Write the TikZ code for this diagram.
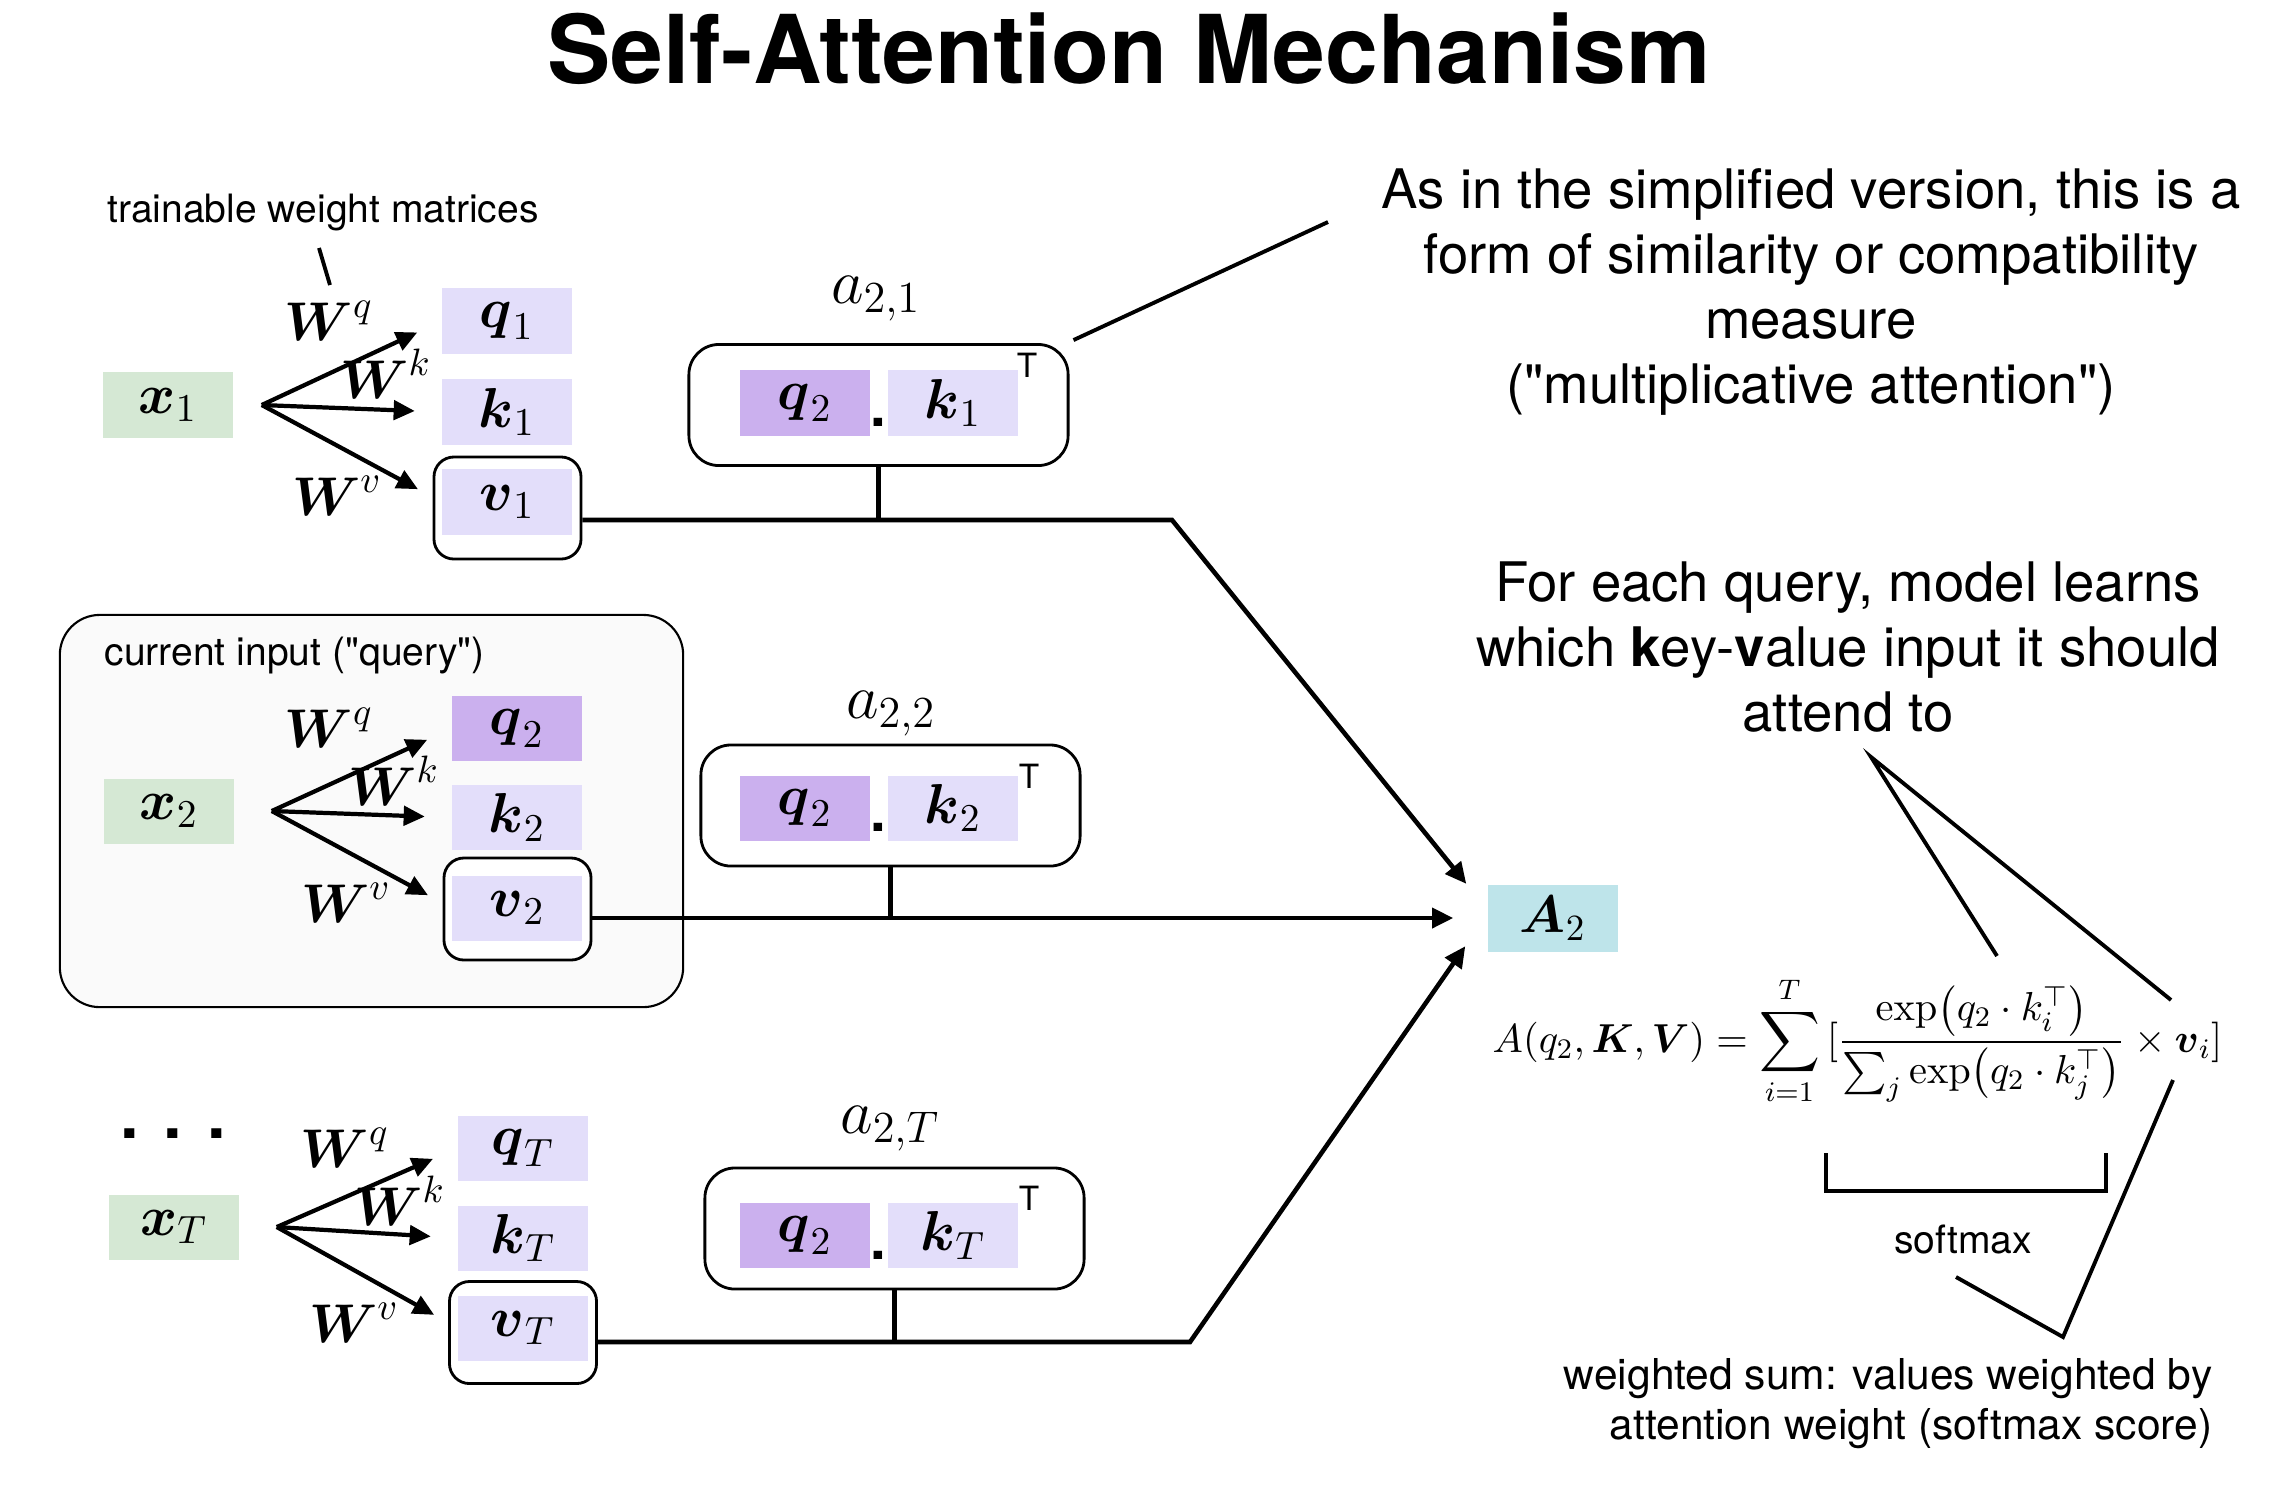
\RequirePackage{fix-cm}
\documentclass[tikz,border=0pt]{standalone}
\usepackage{amsmath}
\usepackage[no-math]{fontspec}
\setmainfont{TeX Gyre Heros}
\usepackage{tikz}
\usetikzlibrary{arrows.meta}
\usetikzlibrary{positioning}

\definecolor{InputGreen}{HTML}{D5E8D4}
\definecolor{KeyLilac}{HTML}{E3DEFA}
\definecolor{QueryLilac}{HTML}{CBB0EE}
\definecolor{OutCyan}{HTML}{BEE4EA}
\definecolor{PanelGray}{HTML}{FAFAFA}

\begin{document}
\begin{tikzpicture}[x=0.01cm, y=-0.01cm,
        vec/.style={minimum width=1.29cm, minimum height=0.65cm, inner sep=0pt, font=\fontsize{16}{18}\selectfont},
        inbox/.style={vec, fill=InputGreen},
        keybox/.style={vec, fill=KeyLilac},
        qrybox/.style={vec, fill=QueryLilac},
        vframe/.style={draw, rounded corners=0.2cm, line width=0.8pt, minimum width=1.47cm, minimum height=1.02cm},
        scorebox/.style={draw, rounded corners=0.3cm, line width=0.8pt, minimum width=3.79cm, minimum height=1.21cm},
        wlab/.style={anchor=base, inner sep=0pt, font=\fontsize{15.5}{18}\selectfont},
        alab/.style={anchor=base, inner sep=0pt, font=\fontsize{18}{20}\selectfont},
        tmark/.style={inner sep=0pt, font=\fontsize{9.5}{10}\selectfont},
        dotmark/.style={inner sep=0pt, font=\bfseries\fontsize{16}{16}\selectfont},
        note/.style={align=center, inner sep=0pt, font=\fontsize{15.5}{18.5}\selectfont},
        remark/.style={inner sep=0pt, font=\fontsize{11.1}{13}\selectfont},
        proj/.style={-{Triangle[length=6pt,width=5.5pt]}, line width=1.2pt, shorten >=0.27cm},
        flow/.style={-{Triangle[length=6pt,width=5.6pt]}, line width=1.3pt},
        wire/.style={line width=1.3pt},
        pointer/.style={line width=1.1pt},
    ]
    \useasboundingbox (0,0) rectangle (2276,1496);
    \node[anchor=base, inner sep=0pt, font=\bfseries\fontsize{27}{30}\selectfont] (title) at (1129,83) {Self-Attention Mechanism};

    % first input
    \node[remark, anchor=base] (train) at (323,222) {trainable weight matrices};
    \node[inbox] (x1) at (168,405) {$\boldsymbol{x}_1$};
    \node[keybox] (q1) at (507,321) {$\boldsymbol{q}_1$};
    \node[keybox] (k1) at (507,412) {$\boldsymbol{k}_1$};
    \node[vframe] (v1f) at (507.5,508) {};
    \node[keybox] (v1) at (507,502) {$\boldsymbol{v}_1$};
    \node[wlab] (wq1) at (329,340) {$\boldsymbol{W}^{q}$};
    \node[wlab] (wk1) at (386,398) {$\boldsymbol{W}^{k}$};
    \node[wlab] (wv1) at (337,515) {$\boldsymbol{W}^{v}$};
    \draw[proj] ([xshift=0.285cm]x1.east) -- (q1.west);
    \draw[proj] ([xshift=0.285cm]x1.east) -- (k1.west);
    \draw[proj] ([xshift=0.285cm]x1.east) -- (v1.west);
    \coordinate (trainA) at (319,248);
    \coordinate (trainB) at (330,285);
    \draw[pointer] (trainA) -- (trainB);

    % current input (query)
    \node[draw, fill=PanelGray, rounded corners=0.4cm, line width=0.6pt, minimum width=6.23cm, minimum height=3.92cm] (panel) at (371.5,811) {};
    \node[remark, anchor=base west] (cur) at (104,665) {current input (\textquotedbl{}query\textquotedbl)};
    \node[inbox] (x2) at (169,811) {$\boldsymbol{x}_2$};
    \node[qrybox] (q2) at (517,728.5) {$\boldsymbol{q}_2$};
    \node[keybox] (k2) at (517,817.5) {$\boldsymbol{k}_2$};
    \node[vframe, fill=white] (v2f) at (517.5,909) {};
    \node[keybox] (v2) at (517,908) {$\boldsymbol{v}_2$};
    \node[wlab] (wq2) at (329,747) {$\boldsymbol{W}^{q}$};
    \node[wlab] (wk2) at (394,805) {$\boldsymbol{W}^{k}$};
    \node[wlab] (wv2) at (346,922) {$\boldsymbol{W}^{v}$};
    \draw[proj] ([xshift=0.375cm]x2.east) -- (q2.west);
    \draw[proj] ([xshift=0.375cm]x2.east) -- (k2.west);
    \draw[proj] ([xshift=0.375cm]x2.east) -- (v2.west);

    % last input
    \node[inner sep=0pt, font=\bfseries\fontsize{19}{20}\selectfont] (more) at (173,1134) {. . .};
    \node[inbox] (xT) at (174,1227) {$\boldsymbol{x}_T$};
    \node[keybox] (qT) at (523,1148) {$\boldsymbol{q}_T$};
    \node[keybox] (kT) at (523,1238) {$\boldsymbol{k}_T$};
    \node[vframe] (vTf) at (523,1332.5) {};
    \node[keybox] (vT) at (523,1328) {$\boldsymbol{v}_T$};
    \node[wlab] (wqT) at (345,1167) {$\boldsymbol{W}^{q}$};
    \node[wlab] (wkT) at (400,1225) {$\boldsymbol{W}^{k}$};
    \node[wlab] (wvT) at (354,1342) {$\boldsymbol{W}^{v}$};
    \draw[proj] ([xshift=0.375cm]xT.east) -- (qT.west);
    \draw[proj] ([xshift=0.375cm]xT.east) -- (kT.west);
    \draw[proj] ([xshift=0.375cm]xT.east) -- (vT.west);

    % attention scores
    \node[scorebox] (a21) at (878.5,405) {};
    \node[qrybox] (a21q) at (805,403) {$\boldsymbol{q}_2$};
    \node[keybox] (a21k) at (953,403) {$\boldsymbol{k}_1$};
    \node[dotmark] (a21d) at (878,422) {.};
    \node[tmark] (a21t) at (1027,365) {T};
    \node[alab] (a21l) at (876,303) {$a_{2,1}$};

    \node[scorebox] (a22) at (890.5,805.5) {};
    \node[qrybox] (a22q) at (805,808) {$\boldsymbol{q}_2$};
    \node[keybox] (a22k) at (953,808) {$\boldsymbol{k}_2$};
    \node[dotmark] (a22d) at (878,827) {.};
    \node[tmark] (a22t) at (1029,776) {T};
    \node[alab] (a22l) at (891,718) {$a_{2,2}$};

    \node[scorebox] (a2T) at (894.5,1228.5) {};
    \node[qrybox] (a2Tq) at (805,1235.5) {$\boldsymbol{q}_2$};
    \node[keybox] (a2Tk) at (953,1235.5) {$\boldsymbol{k}_T$};
    \node[dotmark] (a2Td) at (878,1255) {.};
    \node[tmark] (a2Tt) at (1029,1198) {T};
    \node[alab] (a2Tl) at (890,1133) {$a_{2,T}$};

    % output
    \node[vec, fill=OutCyan, minimum width=1.3cm, minimum height=0.67cm, font=\fontsize{15}{18}\selectfont] (A2) at (1553,918) {$\boldsymbol{A}_2$};
    \coordinate (j1) at (878.5,520);
    \coordinate (j2) at (890.5,918);
    \coordinate (jT) at (894.5,1342);
    \coordinate (b1) at (1172,520);
    \coordinate (bT) at (1190,1342);
    \draw[wire] (a21) -- (j1);
    \draw[wire] (a22) -- (j2);
    \draw[wire] (a2T) -- (jT);
    \draw[flow] (v1f.east |- j1) -- (b1) -- ([xshift=-0.21cm]A2.north west);
    \draw[flow] (v2f.east |- j2) -- ([xshift=-0.34cm]A2.west);
    \draw[flow] (vTf.east |- jT) -- (bT) -- ([xshift=-0.22cm,yshift=0.06cm]A2.south west);

    % notes on the right
    \node[note] (sim) at (1811,292) {As in the simplified version, this is a\\form of similarity or compatibility\\measure\\(\textquotedbl{}multiplicative attention\textquotedbl)};
    \coordinate (simptr) at (1328,222);
    \draw[pointer] ([shift={(4,-3)}]a21.north east) -- (simptr);
    \node[note] (kv) at (1848,647) {For each query, model learns\\which \textbf{k}ey-\textbf{v}alue input it should\\attend to};
    \node[anchor=base west, inner sep=0pt, font=\fontsize{11.5}{13}\selectfont] (eq) at (1492,1052)
        {$\displaystyle A(q_2,\boldsymbol{K},\boldsymbol{V}) = \sum_{i=1}^{T}\,[\frac{\exp\bigl(q_2\cdot k_i^{\top}\bigr)}{\sum_j \exp\bigl(q_2\cdot k_j^{\top}\bigr)}\times \boldsymbol{v}_i]$};
    \coordinate (apex) at (1871,757);
    \coordinate (numtop) at (1997,956);
    \coordinate (timestop) at (2171,1000);
    \draw[pointer] (numtop) -- (apex) -- (timestop);
    \coordinate (brkL) at (1826,1153);
    \coordinate (brkR) at (2106,1153);
    \draw[pointer] (brkL) -- ++(0,38) -| (brkR);
    \node[remark, anchor=base] (soft) at (1963,1253) {softmax};
    \coordinate (chkA) at (1956,1277);
    \coordinate (chkB) at (2063,1337);
    \coordinate (chkC) at (2173,1080);
    \draw[pointer] (chkA) -- (chkB) -- (chkC);
    \node[align=right, anchor=east, inner sep=0pt, font=\fontsize{12.1}{14.2}\selectfont] (wsum) at (2213,1404) {weighted sum: values weighted by\\attention weight (softmax score)};
\end{tikzpicture}
\end{document}
